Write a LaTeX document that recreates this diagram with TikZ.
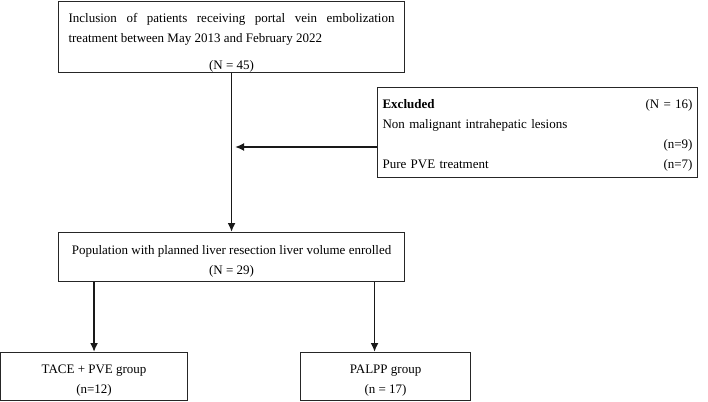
\documentclass[tikz,border=0pt]{standalone}
\usepackage{fontspec}
\setmainfont{Liberation Serif}
\usetikzlibrary{arrows.meta}

\begin{document}
\begin{tikzpicture}[x=1pt,y=-1pt,
    box/.style={draw=black!85,line width=1.1pt,inner ysep=0pt,anchor=north west,
      font=\fontsize{13}{20}\selectfont},
    arr/.style={draw=black!90,line width=1.8pt,-{Latex[length=9pt,width=8pt]}}]
    \useasboundingbox (0,0) rectangle (708,401);
    \node[box,inner xsep=10pt,text width=326pt,minimum height=67pt,align=justify] (incl) at (58,1)
        {\rule{0pt}{21pt}Inclusion of patients receiving portal vein embolization\linebreak
         treatment between May 2013 and February 2022\\[7pt]
         \makebox[\linewidth]{(N = 45)}};
    \node[box,inner xsep=5pt,text width=310pt,minimum height=90pt,align=left] (excl) at (377,87)
        {\rule{0pt}{15pt}\textbf{Excluded}\hfill(N = 16)\\
         Non malignant intrahepatic lesions\\
         \hspace*{\fill}(n=9)\\
         Pure PVE treatment\hfill(n=7)};
    \node[box,minimum width=346pt,minimum height=49pt,align=center] (pop) at (58,232)
        {\rule{0pt}{17pt}Population with planned liver resection liver volume enrolled\\(N = 29)};
    \node[box,minimum width=187pt,minimum height=48pt,align=center] (tace) at (0,352)
        {\rule{0pt}{17pt}TACE + PVE group\\(n=12)};
    \node[box,minimum width=170pt,minimum height=48pt,align=center] (palpp) at (300,352)
        {\rule{0pt}{17pt}PALPP group\\(n = 17)};
    \coordinate (hit) at (235,147);
    \draw[arr] (incl.south) -- (pop.north);
    \draw[arr] (excl.west |- hit) -- (hit);
    \draw[arr] (pop.south -| tace.north) -- (tace.north);
    \draw[arr] ([xshift=-11pt]palpp.north |- pop.south) -- ([xshift=-11pt]palpp.north);
\end{tikzpicture}
\end{document}
